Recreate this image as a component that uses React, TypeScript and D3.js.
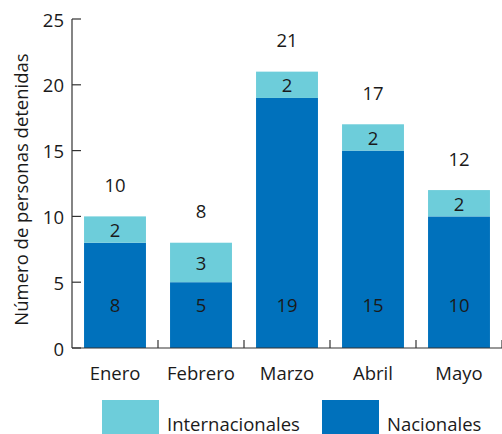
import React from "react";
import * as d3 from "d3";

const months = ["Enero", "Febrero", "Marzo", "Abril", "Mayo"];
const nacionales = [8, 5, 19, 15, 10];
const internacionales = [2, 3, 2, 2, 2];
const yTicks = [0, 5, 10, 15, 20, 25];
const seriesNames = ["Internacionales", "Nacionales"];
const colors = { Internacionales: "#6dcdda", Nacionales: "#0071bc" };

const W = 502;
const H = 434;
const FONT = "'Open Sans', sans-serif";
const TXT = "#1a1a1a";
const FS = 18.5;

export default function App() {
  const x = d3.scaleBand<string>().domain(months).range([72, 502]).paddingInner(0.28).paddingOuter(0.14);
  const y = d3.scaleLinear().domain([0, 25]).range([348, 19]);
  const data = months.map((m, i) => ({
    m,
    nac: nacionales[i],
    int: internacionales[i],
    total: nacionales[i] + internacionales[i],
  }));
  const step = x.step();
  const boundaries = months.map((m) => (x(m) as number) - step * 0.14 + step);

  return (
    <svg width={W} height={H} style={{ position: "absolute", left: 0, top: 0 }} fontFamily={FONT}>
      {data.map((d) => {
        const x0 = x(d.m) as number;
        const bw = x.bandwidth();
        const cx = x0 + bw / 2;
        return (
          <g key={d.m}>
            <rect x={x0} width={bw} y={y(d.nac)} height={y(0) - y(d.nac)} fill={colors.Nacionales} />
            <rect x={x0} width={bw} y={y(d.total)} height={y(d.nac) - y(d.total)} fill={colors.Internacionales} />
            <text x={cx} y={y(3.3)} textAnchor="middle" dominantBaseline="central" fontSize={FS} fill={TXT}>
              {d.nac}
            </text>
            <text x={cx} y={(y(d.nac) + y(d.total)) / 2} textAnchor="middle" dominantBaseline="central" fontSize={FS} fill={TXT}>
              {d.int}
            </text>
            <text x={cx} y={y(d.total) - 32} textAnchor="middle" dominantBaseline="central" fontSize={FS} fill={TXT}>
              {d.total}
            </text>
            <text x={cx} y={372} textAnchor="middle" dominantBaseline="central" fontSize={FS} fill={TXT}>
              {d.m}
            </text>
          </g>
        );
      })}
      <line x1={72} x2={72} y1={y(25)} y2={y(0)} stroke="#333" strokeWidth={1.2} />
      <line x1={72} x2={502} y1={y(0)} y2={y(0)} stroke="#333" strokeWidth={1.2} />
      {yTicks.map((t) => (
        <g key={t}>
          <line x1={72} x2={81} y1={y(t)} y2={y(t)} stroke="#333" strokeWidth={1.2} />
          <text x={64} y={y(t)} textAnchor="end" dominantBaseline="central" fontSize={FS} fill={TXT}>
            {t}
          </text>
        </g>
      ))}
      {boundaries.map((b, i) => (
        <line key={i} x1={b} x2={b} y1={y(0)} y2={y(0) - 8} stroke="#333" strokeWidth={1.2} />
      ))}
      <text
        transform={`translate(20, ${(y(0) + y(25)) / 2 + 6}) rotate(-90)`}
        textAnchor="middle"
        dominantBaseline="central"
        fontSize={FS}
        fill={TXT}
      >
        Número de personas detenidas
      </text>
      {seriesNames.map((s, i) => {
        const lx = i === 0 ? 102 : 322;
        return (
          <g key={s}>
            <rect x={lx} y={400} width={57} height={34} fill={colors[s as keyof typeof colors]} />
            <text x={lx + 65} y={423} dominantBaseline="central" fontSize={FS} fill={TXT}>
              {s}
            </text>
          </g>
        );
      })}
    </svg>
  );
}
